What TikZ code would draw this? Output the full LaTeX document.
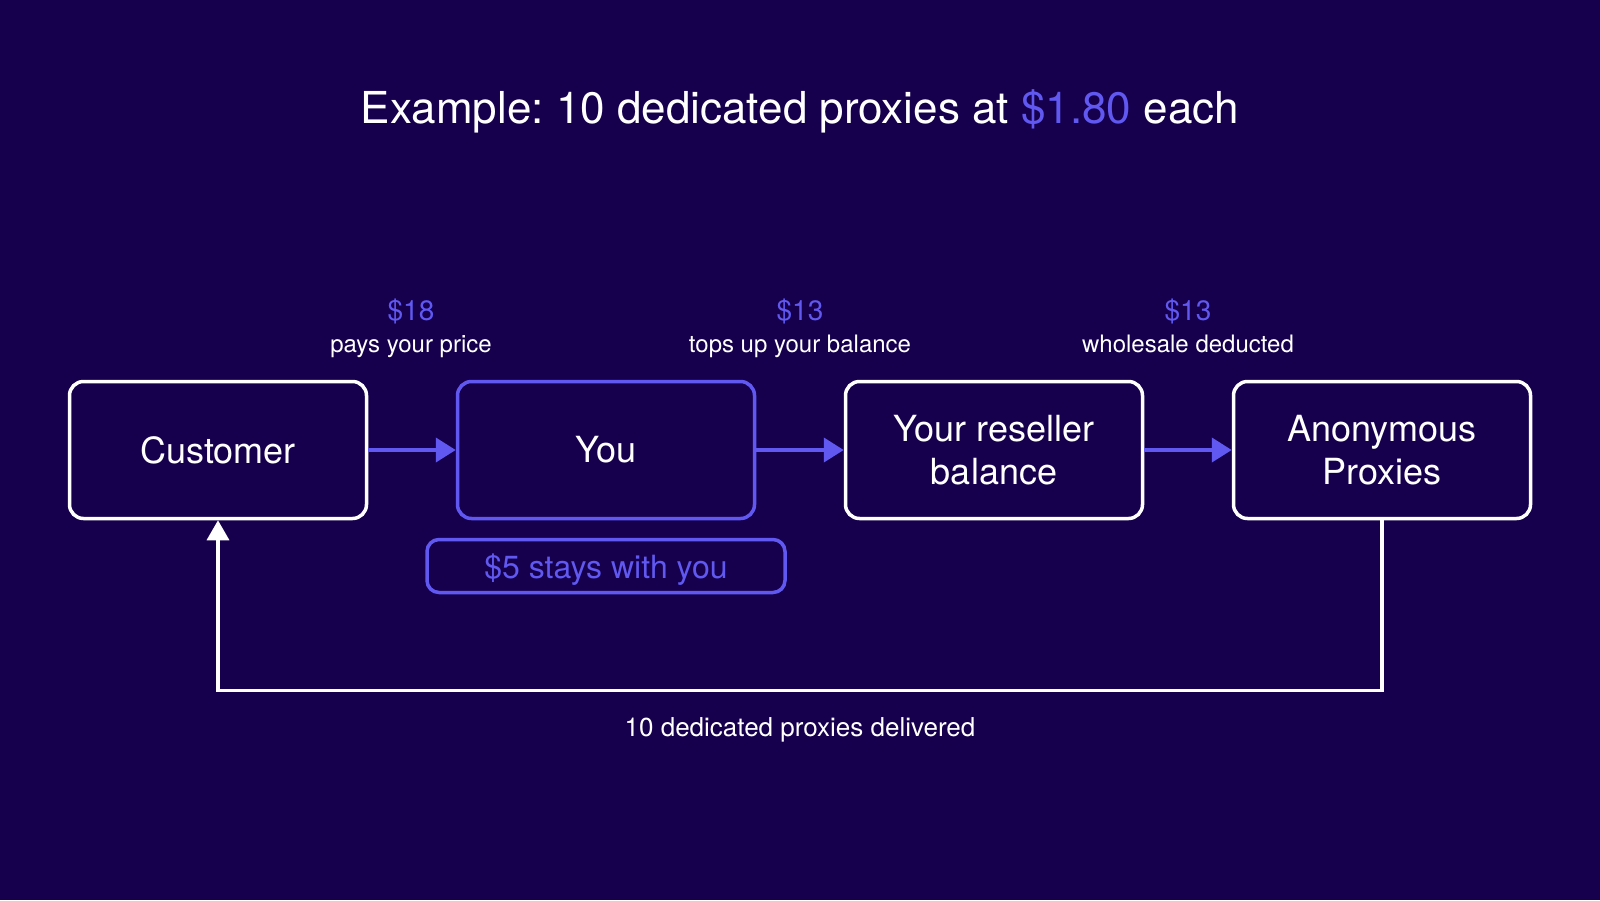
\documentclass[tikz,border=0pt]{standalone}
\usepackage{fontspec}
\setmainfont{TeX Gyre Heros}
\usetikzlibrary{arrows.meta}
\frenchspacing

\definecolor{bgpurple}{HTML}{16004E}
\definecolor{accent}{HTML}{6058F0}

\newcommand{\fsz}[1]{\fontsize{#1}{#1}\selectfont}

\begin{document}
\begin{tikzpicture}[x = 1pt, y = -1pt,
  box/.style = {draw = white, line width = 3.5pt, rounded corners = 14pt, fill = bgpurple,
    minimum width = 297pt, minimum height = 137pt, align = center, text = white,
    font = \fontsize{36}{43}\selectfont},
  amount/.style = {text = accent, font = \fsz{28}, anchor = base},
  note/.style = {text = white, font = \fsz{24}, anchor = base},
  flow/.style = {draw = accent, line width = 4pt, -{Triangle[length = 20pt, width = 24pt]}},
  back/.style = {draw = white, line width = 3.5pt, -{Triangle[length = 20pt, width = 22pt]}}]

\fill [bgpurple] (0,0) rectangle (1600,900);
\useasboundingbox (0,0) rectangle (1600,900);

\node [text = white, font = \fsz{44}, anchor = base] (title) at (800,123) {Example: 10 dedicated proxies at \textcolor{accent}{\$1.80} each};

\node [box] (cust) at (218,450) {Customer};
\node [box, draw = accent] (you) at (606,450) {You};
\node [box] (bal) at (994,450) {Your reseller\\balance};
\node [box] (anon) at (1382,450) {Anonymous\\Proxies};

\node [amount] (a1) at (411,320) {\$18};
\node [note] (n1) at (411,352) {pays your price};
\node [amount] (a2) at (800,320) {\$13};
\node [note] (n2) at (800,352) {tops up your balance};
\node [amount] (a3) at (1188,320) {\$13};
\node [note] (n3) at (1188,352) {wholesale deducted};

\node [draw = accent, line width = 3.5pt, rounded corners = 12pt, minimum width = 358pt,
  minimum height = 53pt, text depth = 0pt, text = accent, font = \fsz{32}] (keep) at (606,566) {\$5 stays with you};

\node [note, font = \fsz{26}] (done) at (800,736) {10 dedicated proxies delivered};

\draw [flow] (cust) -- (you);
\draw [flow] (you) -- (bal);
\draw [flow] (bal) -- (anon);
\draw [back] (anon.south) -- ++(0,170) -| (cust.south);
\end{tikzpicture}
\end{document}
